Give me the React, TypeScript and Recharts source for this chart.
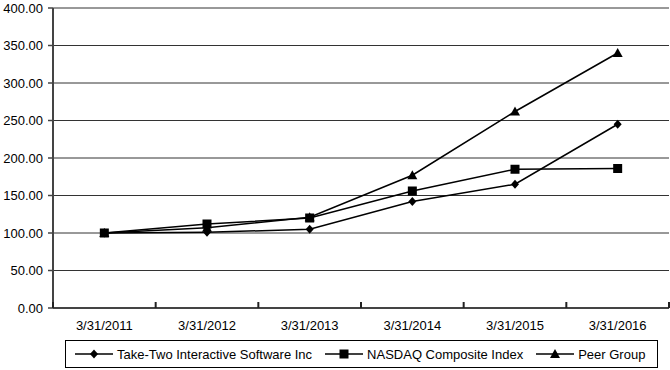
import { LineChart, Line, XAxis, YAxis, CartesianGrid } from 'recharts';

const dates = ['3/31/2011', '3/31/2012', '3/31/2013', '3/31/2014', '3/31/2015', '3/31/2016'];
const takeTwo = [100, 101, 105, 142, 165, 245];
const nasdaq = [100, 112, 120, 156, 185, 186];
const peerGroup = [100, 107, 121, 177, 262, 340];
const yTicks = [0, 50, 100, 150, 200, 250, 300, 350, 400];

const data = dates.map((d, i) => ({
    date: d,
    takeTwo: takeTwo[i],
    nasdaq: nasdaq[i],
    peer: peerGroup[i],
}));

const FONT = '"Liberation Sans", Arial, sans-serif';
const AXIS = '#444';

function Diamond({ cx, cy }: any) {
    if (cx == null || cy == null) return null;
    return <polygon points={`${cx},${cy - 4.5} ${cx + 4},${cy} ${cx},${cy + 4.5} ${cx - 4},${cy}`} fill="#000" />;
}

function Square({ cx, cy }: any) {
    if (cx == null || cy == null) return null;
    return <rect x={cx - 4.5} y={cy - 4.5} width={9} height={9} fill="#000" />;
}

function Triangle({ cx, cy }: any) {
    if (cx == null || cy == null) return null;
    return <polygon points={`${cx},${cy - 5} ${cx + 5},${cy + 4} ${cx - 5},${cy + 4}`} fill="#000" />;
}

// category label plus the inward tick marks on the band boundaries
function DateTick({ x, y, payload, index, visibleTicksCount }: any) {
    const half = Number(payload.offset) || 0;
    const left = x - half;
    const right = x + half;
    const last = index === visibleTicksCount - 1;
    return (
        <g>
            <path
                d={`M${left},${y}V${y - 6}` + (last ? `M${right},${y}V${y - 6}` : '')}
                stroke="#222"
                strokeWidth={2}
                fill="none"
            />
            <text x={x} y={y + 22} textAnchor="middle" fill="#000" fontSize={13} fontFamily={FONT}>
                {payload.value}
            </text>
        </g>
    );
}

const legendItems = [
    { label: 'Take-Two Interactive Software Inc', Marker: Diamond },
    { label: 'NASDAQ Composite Index', Marker: Square },
    { label: 'Peer Group', Marker: Triangle },
];

function ChartLegend() {
    return (
        <div
            style={{
                position: 'absolute',
                left: 65,
                top: 340,
                width: 593,
                height: 28,
                border: '1px solid #000',
                boxSizing: 'border-box',
                display: 'flex',
                alignItems: 'center',
                fontFamily: FONT,
                fontSize: 13,
                color: '#000',
                paddingLeft: 9,
                whiteSpace: 'nowrap',
            }}
        >
            {legendItems.map(({ label, Marker }) => (
                <div key={label} style={{ display: 'flex', alignItems: 'center', marginRight: 13, flexShrink: 0 }}>
                    <svg width={38} height={12} style={{ marginRight: 4 }}>
                        <line x1={0} y1={6} x2={38} y2={6} stroke="#000" strokeWidth={1.5} />
                        <Marker cx={19} cy={6} />
                    </svg>
                    <span>{label}</span>
                </div>
            ))}
        </div>
    );
}

export default function App() {
    return (
        <div style={{ position: 'relative', width: 670, height: 370, background: '#fff' }}>
            <style>{'body{margin:0}'}</style>
            <LineChart width={670} height={370} data={data} margin={{ top: 8, right: 1, left: 0, bottom: 32 }}>
                <CartesianGrid horizontal vertical={false} stroke="#333" strokeWidth={1} />
                <XAxis
                    dataKey="date"
                    scale="band"
                    height={30}
                    tickLine={false}
                    tickSize={0}
                    tickMargin={0}
                    axisLine={{ stroke: AXIS, strokeWidth: 2 }}
                    tick={<DateTick />}
                    interval={0}
                />
                <YAxis
                    width={53}
                    domain={[0, 400]}
                    ticks={yTicks}
                    tickFormatter={(v: number) => v.toFixed(2)}
                    axisLine={{ stroke: AXIS, strokeWidth: 2 }}
                    tickLine={{ stroke: AXIS, strokeWidth: 1.5 }}
                    tickSize={5}
                    tickMargin={5}
                    tick={{ fill: '#000', fontSize: 13, fontFamily: FONT }}
                    interval={0}
                />
                <YAxis
                    yAxisId="right"
                    orientation="right"
                    width={0}
                    tick={false}
                    tickLine={false}
                    axisLine={{ stroke: '#333', strokeWidth: 1 }}
                />
                <Line dataKey="takeTwo" stroke="#000" strokeWidth={1.5} dot={<Diamond />} activeDot={false} isAnimationActive={false} />
                <Line dataKey="nasdaq" stroke="#000" strokeWidth={1.5} dot={<Square />} activeDot={false} isAnimationActive={false} />
                <Line dataKey="peer" stroke="#000" strokeWidth={1.5} dot={<Triangle />} activeDot={false} isAnimationActive={false} />
            </LineChart>
            <ChartLegend />
        </div>
    );
}
